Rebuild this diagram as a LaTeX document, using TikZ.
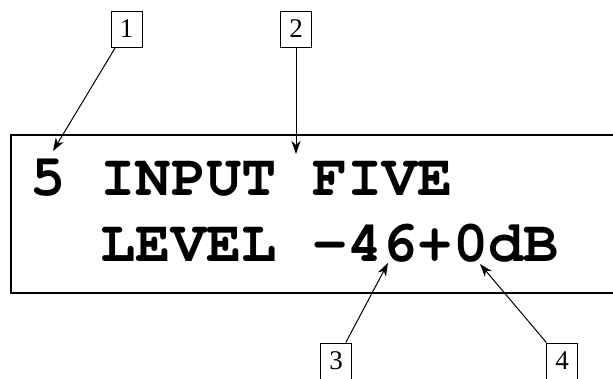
\documentclass[tikz,border=0pt]{standalone}
\usepackage{fontspec}
\setmainfont{Liberation Serif}
\usetikzlibrary{shapes,arrows.meta}

\newcommand{\lcdfont}{\fontencoding{T1}\fontfamily{pcr}\fontseries{b}\selectfont}

\tikzset{
	callout/.style={draw,line width=1pt,inner sep=0pt,minimum width=31,minimum height=36,font=\fontsize{27}{30}\selectfont},
	pointer/.style={line width=1pt,-{Stealth[length=13,width=9,inset=4]}},
	lcdtext/.style={anchor=base west,inner sep=0pt,font=\lcdfont\fontsize{58.75}{70}\selectfont}
}

\begin{document}
\begin{tikzpicture}[x=1pt,y=-1pt]
		\useasboundingbox (0,0) rectangle (613,378);
		% display window (right side runs off the page)
		\draw[line width=1.3pt] (614,135) -- (11,135) -- (11,293) -- (614,293);
		\node[lcdtext] (row1) at (30,195) {5 INPUT FIVE};
		\node[lcdtext] (row2) at (100.5,261) {LEVEL -46+0dB};
		% numbered callouts
		\node[callout] (n1) at (126.5,29) {1};
		\node[callout] (n2) at (296,29) {2};
		\node[callout] (n3) at (336,361) {3};
		\node[callout] (n4) at (562,361) {4};
		\coordinate (p1) at (53,151);
		\coordinate (p2) at (296,154);
		\coordinate (p3) at (388,263);
		\coordinate (p4) at (480,264);
		\foreach \i in {1,2,3,4} { \draw[pointer] (n\i) -- (p\i);}
	\end{tikzpicture}
\end{document}
